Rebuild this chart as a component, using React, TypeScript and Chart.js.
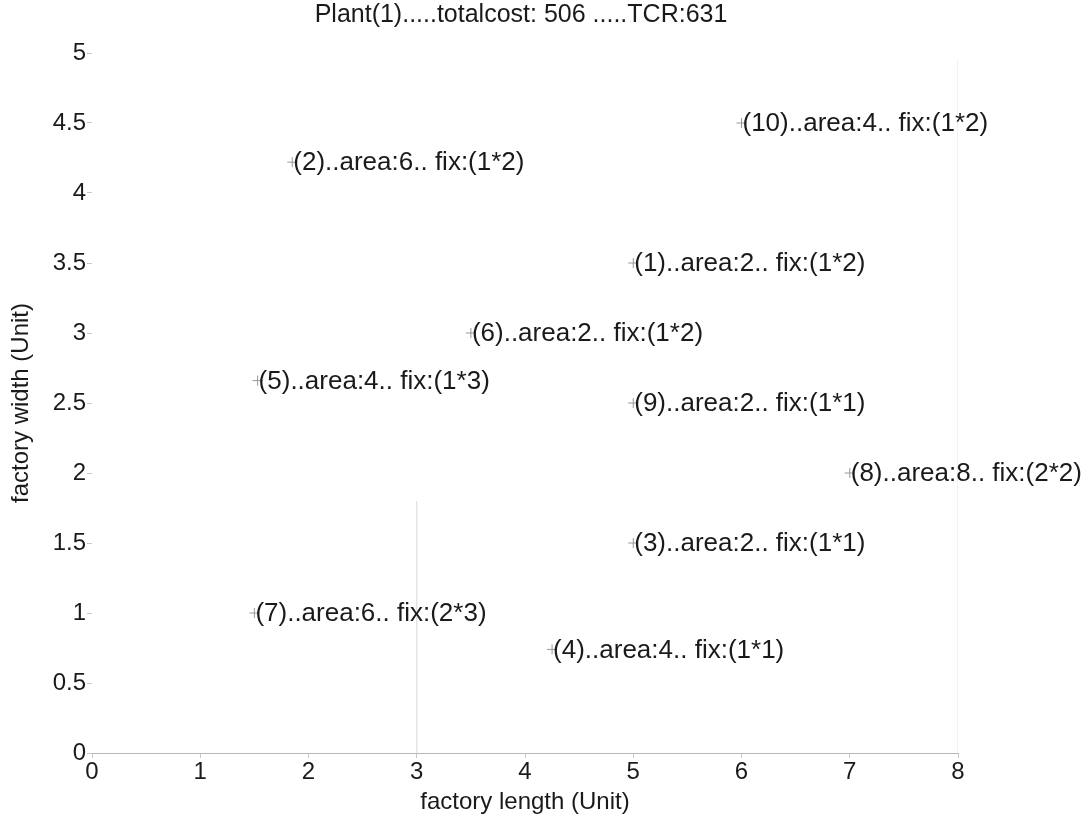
import React, { useEffect, useRef } from "react";
import { Chart, registerables } from "chart.js";

Chart.register(...registerables);

const titleText = "Plant(1).....totalcost: 506 .....TCR:631";
const xAxisTitle = "factory length (Unit)";
const yAxisTitle = "factory width (Unit)";

const plantLabels = [
  "(1)..area:2.. fix:(1*2)",
  "(2)..area:6.. fix:(1*2)",
  "(3)..area:2.. fix:(1*1)",
  "(4)..area:4.. fix:(1*1)",
  "(5)..area:4.. fix:(1*3)",
  "(6)..area:2.. fix:(1*2)",
  "(7)..area:6.. fix:(2*3)",
  "(8)..area:8.. fix:(2*2)",
  "(9)..area:2.. fix:(1*1)",
  "(10)..area:4.. fix:(1*2)",
];
const plantX = [5, 1.85, 5, 4.25, 1.53, 3.5, 1.5, 7, 5, 6];
const plantY = [3.5, 4.22, 1.5, 0.74, 2.66, 3, 1, 2, 2.5, 4.5];

// faint traces visible in the reference
const traceA_X = [3, 3];
const traceA_Y = [0, 1.8];
const traceB_X = [8, 8];
const traceB_Y = [0, 4.95];

const FONT = "'Liberation Sans', Arial, sans-serif";
const TEXT = "#1a1a1a";

const labelPlugin = {
  id: "pointLabels",
  afterDatasetsDraw(chart: any) {
    const meta = chart.getDatasetMeta(0);
    const ctx = chart.ctx;
    ctx.save();
    ctx.font = `26px ${FONT}`;
    ctx.fillStyle = TEXT;
    ctx.textAlign = "left";
    ctx.textBaseline = "middle";
    meta.data.forEach((el: any, i: number) => {
      ctx.fillText(plantLabels[i], el.x + 1, el.y + 1);
    });
    ctx.restore();
  },
};

export default function App() {
  const ref = useRef<HTMLCanvasElement>(null);
  useEffect(() => {
    document.body.style.margin = "0";
    const chart = new Chart(ref.current!, {
      type: "scatter",
      data: {
        datasets: [
          {
            data: plantX.map((x, i) => ({ x, y: plantY[i] })),
            pointStyle: "cross",
            pointRadius: 5,
            borderColor: "#999",
            borderWidth: 1,
            showLine: false,
          },
          {
            data: traceA_X.map((x, i) => ({ x, y: traceA_Y[i] })),
            showLine: true,
            pointRadius: 0,
            borderColor: "#d8d8d8",
            borderWidth: 1,
          },
          {
            data: traceB_X.map((x, i) => ({ x, y: traceB_Y[i] })),
            showLine: true,
            pointRadius: 0,
            borderColor: "#e2e2e2",
            borderWidth: 1,
          },
        ],
      },
      options: {
        animation: false,
        responsive: false,
        layout: { padding: { left: 0, right: 44, top: 0, bottom: 0 } },
        plugins: {
          legend: { display: false },
          tooltip: { enabled: false },
          title: {
            display: true,
            text: titleText,
            color: TEXT,
            font: { family: FONT, size: 25, weight: "normal" as any },
            padding: { top: 0, bottom: 23 },
          },
        },
        scales: {
          x: {
            type: "linear",
            min: 0,
            max: 8,
            ticks: {
              stepSize: 1,
              color: TEXT,
              font: { family: FONT, size: 24 },
              padding: 0,
              maxRotation: 0,
            },
            grid: {
              drawOnChartArea: false,
              drawTicks: true,
              tickLength: 5,
              color: "#c8c8c8",
            },
            border: { display: true, color: "#b8b8b8", dash: [6, 3] },
            title: {
              display: true,
              text: xAxisTitle,
              color: TEXT,
              font: { family: FONT, size: 24 },
              padding: { top: 0, bottom: 9 },
            },
            afterFit(scale: any) {
              scale.height = 73;
            },
          },
          y: {
            type: "linear",
            min: 0,
            max: 5,
            ticks: {
              stepSize: 0.5,
              color: TEXT,
              font: { family: FONT, size: 24 },
              padding: 1,
              callback: (v: any) => String(v),
            },
            grid: {
              drawOnChartArea: false,
              drawTicks: true,
              tickLength: 5,
              color: "#c8c8c8",
            },
            border: { display: false },
            title: {
              display: true,
              text: yAxisTitle,
              color: TEXT,
              font: { family: FONT, size: 24 },
              padding: { top: 7, bottom: 0 },
            },
            afterFit(scale: any) {
              scale.width = 92;
            },
          },
          y2: {
            type: "linear",
            position: "right",
            display: true,
            min: 0,
            max: 5,
            ticks: { display: false },
            grid: { display: false },
            border: { display: false },
            afterFit(scale: any) {
              scale.width = 84;
            },
          },
        },
      },
      plugins: [labelPlugin],
    });
    return () => chart.destroy();
  }, []);
  return (
    <div style={{ width: 1086, height: 826, background: "#fff" }}>
      <canvas ref={ref} width={1086} height={826} />
    </div>
  );
}
